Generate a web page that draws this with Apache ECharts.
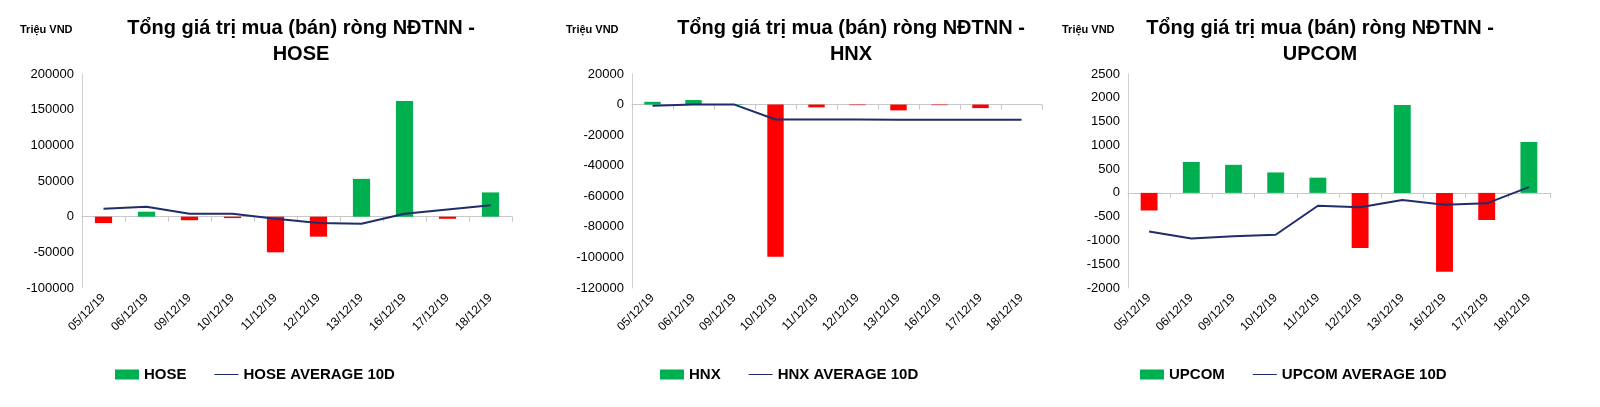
<!DOCTYPE html>
<html><head><meta charset="utf-8">
<script src="https://cdn.jsdelivr.net/npm/echarts@6/dist/echarts.min.js"></script>
<style>html,body{margin:0;padding:0;background:#fff}#c{width:1600px;height:407px}</style>
</head><body><div id="c"></div>
<script>
const categories = ['05/12/19','06/12/19','09/12/19','10/12/19','11/12/19','12/12/19','13/12/19','16/12/19','17/12/19','18/12/19'];
const hoseValues = [-9000, 7000, -5000, -2000, -50000, -28000, 53000, 162000, -3000, 34000];
const hoseAvg = [11000, 14000, 4000, 4000, -3000, -9000, -10000, 4000, 10000, 16000];
const hnxValues = [1800, 3000, 300, -99500, -1800, -400, -3800, -400, -2300, 0];
const hnxAvg = [-700, 0, 0, -9800, -9800, -9800, -10000, -10000, -10000, -10000];
const upcomValues = [-370, 650, 590, 430, 320, -1160, 1850, -1660, -570, 1070];
const upcomAvg = [-810, -960, -910, -880, -270, -300, -150, -250, -220, 120];

const panels = [
  {name:'HOSE', title:'Tổng giá trị mua (bán) ròng NĐTNN -\nHOSE', vals:hoseValues, avg:hoseAvg, min:-100000, max:200000, interval:50000, left:82, width:430, tx:296, lx:110},
  {name:'HNX', title:'Tổng giá trị mua (bán) ròng NĐTNN -\nHNX', vals:hnxValues, avg:hnxAvg, min:-120000, max:20000, interval:20000, left:632, width:410, tx:846, lx:655},
  {name:'UPCOM', title:'Tổng giá trị mua (bán) ròng NĐTNN -\nUPCOM', vals:upcomValues, avg:upcomAvg, min:-2000, max:2500, interval:500, left:1128, width:422, tx:1315, lx:1135}
];
const GREEN='#00B050', RED='#FF0000', NAVY='#1F2D6B';
const font='Arial, "Liberation Sans", sans-serif';
const opt = {animation:false, title:[], grid:[], xAxis:[], yAxis:[], series:[], legend:[], graphic:[]};
panels.forEach((p,i)=>{
  opt.title.push({text:p.title, left:p.tx, top:10, textAlign:'center', textStyle:{fontFamily:font, fontSize:20, fontWeight:'bold', color:'#000', lineHeight:26}});
  opt.graphic.push({type:'text', left:[20,566,1062][i], top:24, style:{text:'Triệu VND', font:'bold 11px '+font, fill:'#000'}});
  opt.grid.push({left:p.left, width:p.width, top:74, height:214});
  opt.xAxis.push({type:'category', gridIndex:i, data:categories, position:'bottom',
    axisLine:{onZero:true, lineStyle:{color:'#c8c8c8'}}, axisTick:{show:true, lineStyle:{color:'#c8c8c8'}},
    axisLabel:{rotate:45, interval:0, color:'#000', fontFamily:font, fontSize:12, margin:8}});
  opt.yAxis.push({type:'value', gridIndex:i, min:p.min, max:p.max, interval:p.interval,
    axisLine:{show:true, lineStyle:{color:'#d0d0d0'}}, splitLine:{show:false},
    axisLabel:{color:'#000', fontFamily:font, fontSize:13, formatter:(v)=>String(v)}});
  opt.series.push({type:'bar', name:p.name, xAxisIndex:i, yAxisIndex:i, data:p.vals, barWidth:'40%',
    itemStyle:{color:(d)=>d.value<0?RED:GREEN}});
  opt.series.push({type:'line', name:p.name+' AVERAGE 10D', xAxisIndex:i, yAxisIndex:i, data:p.avg,
    symbol:'none', lineStyle:{color:NAVY, width:2}, itemStyle:{color:NAVY}});
  opt.legend.push({left:p.lx, top:362, itemGap:28, itemWidth:24, itemHeight:10,
    textStyle:{fontFamily:font, fontSize:15, fontWeight:'bold', color:'#000'},
    data:[{name:p.name, icon:'rect', itemStyle:{color:GREEN}}, {name:p.name+' AVERAGE 10D', icon:'path://M0,4.5H24V5.5H0Z', itemStyle:{color:NAVY}}]});
});
echarts.init(document.getElementById('c')).setOption(opt);
</script></body></html>
